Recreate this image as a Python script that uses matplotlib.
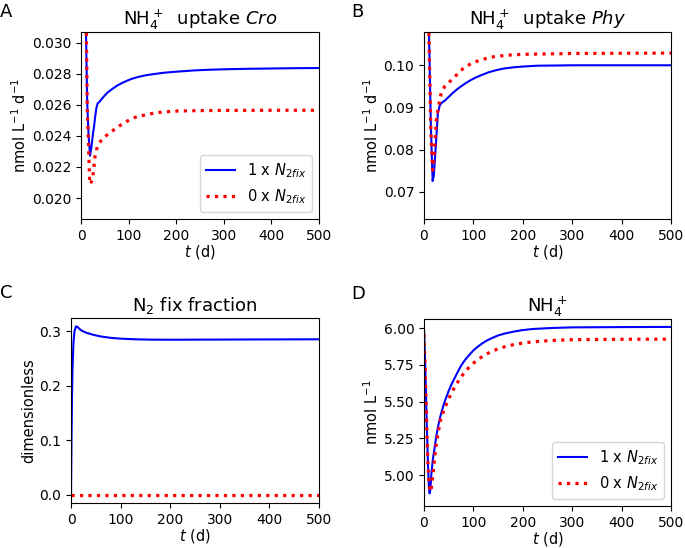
import matplotlib
matplotlib.use("Agg")
import matplotlib.pyplot as plt

# ---------------- data ----------------
# Panel A: NH4+ uptake Cro
a_t_blue = [0, 5, 10, 13, 16, 19, 22, 25, 27.5, 30, 32.4, 35, 38, 43, 48.6, 56, 66, 76, 87, 98, 109,
            122, 137, 155, 172, 190, 207, 240, 270, 300, 350, 400, 450, 500]
a_v_blue = [0.050, 0.041, 0.0315, 0.0262, 0.0240, 0.02273, 0.0233, 0.0241, 0.02462, 0.0253, 0.02581,
            0.0261, 0.02617, 0.02636, 0.02656, 0.02680, 0.02703, 0.02724, 0.02742, 0.02757, 0.02770,
            0.02781, 0.02791, 0.02799, 0.02806, 0.02811, 0.02815, 0.02822, 0.02826, 0.02829, 0.02832,
            0.02834, 0.02836, 0.02837]
a_t_red = [0, 5, 10, 11.3, 13.4, 15.5, 18.3, 21, 24, 26.5, 29, 32.5, 36, 45, 58, 70, 82, 95, 109, 124,
           140, 155, 170, 186, 200, 250, 300, 400, 500]
a_v_red = [0.050, 0.041, 0.0325, 0.0306, 0.0253, 0.0238, 0.0209, 0.0210, 0.02118, 0.0218, 0.02258,
           0.0231, 0.02344, 0.02381, 0.02415, 0.02441, 0.02467, 0.02492, 0.02515, 0.02528, 0.02538,
           0.02548, 0.02553, 0.02557, 0.02560, 0.02563, 0.02564, 0.02565, 0.02565]

# Panel B: NH4+ uptake Phy
b_t_blue = [0, 5, 10, 14, 17.5, 20, 24, 28, 32, 36, 42, 50, 58, 66, 75, 85, 95, 105, 117, 130, 145,
            160, 180, 200, 230, 270, 300, 500]
b_v_blue = [0.16, 0.135, 0.108, 0.085, 0.0725, 0.074, 0.081, 0.0886, 0.0905, 0.0911, 0.0916, 0.0925,
            0.0934, 0.0942, 0.0950, 0.0958, 0.0965, 0.0971, 0.0977, 0.0983, 0.0988, 0.0992, 0.0995,
            0.0997, 0.0999, 0.09995, 0.1000, 0.1000]
b_t_red = [0, 5, 10, 14, 17.5, 20, 25, 30, 35, 42, 52, 60, 70, 79, 88, 97, 106, 116, 128, 140, 153,
           170, 200, 250, 300, 500]
b_v_red = [0.16, 0.135, 0.1068, 0.084, 0.0751, 0.0775, 0.087, 0.0906, 0.0935, 0.0950, 0.0961, 0.0970,
           0.0982, 0.0992, 0.0999, 0.1005, 0.1009, 0.1013, 0.1017, 0.1020, 0.1022, 0.1024, 0.1026,
           0.1027, 0.1028, 0.1029]

# Panel C: N2 fix fraction
c_t = [0, 1, 2, 3, 5, 7, 10, 13, 20, 30, 45, 60, 80, 100, 130, 160, 200, 300, 400, 500]
c_v_blue = [0.0, 0.10, 0.18, 0.23, 0.28, 0.30, 0.309, 0.308, 0.302, 0.2976, 0.2935, 0.2905, 0.2880,
            0.2865, 0.2853, 0.2847, 0.2845, 0.2848, 0.2851, 0.2853]
c_v_red = [0.0] * len(c_t)

# Panel D: NH4+
d_t_blue = [0, 2, 4, 6, 8, 10, 11, 12, 13.5, 15, 18, 21.8, 25, 28.6, 32, 35.4, 40, 45.6, 50, 55.8, 62,
            69.4, 76, 83, 91, 100, 108, 117, 127, 137.4, 150, 164.6, 180, 198.6, 220, 260, 300, 400, 500]
d_v_blue = [6.00, 5.80, 5.55, 5.30, 5.08, 4.92, 4.876, 4.88, 4.93, 5.011, 5.11, 5.192, 5.268, 5.333,
            5.385, 5.428, 5.482, 5.535, 5.574, 5.619, 5.661, 5.710, 5.750, 5.784, 5.816, 5.849, 5.872,
            5.895, 5.916, 5.933, 5.951, 5.965, 5.976, 5.987, 5.995, 6.002, 6.006, 6.008, 6.009]
d_t_red = [0, 2, 4, 6, 8, 10, 12, 13, 14.5, 16, 18.4, 21.5, 25, 29.5, 34, 38.8, 43.5, 49, 55, 62.6,
           72.8, 80, 89.8, 100, 111.6, 124, 137.4, 151, 164.6, 178, 192, 209, 236, 260, 300, 400, 500]
d_v_red = [5.96, 5.76, 5.52, 5.28, 5.08, 4.95, 4.895, 4.887, 4.90, 4.94, 5.011, 5.12, 5.214, 5.305,
           5.383, 5.428, 5.469, 5.512, 5.555, 5.603, 5.658, 5.690, 5.729, 5.762, 5.793, 5.820, 5.843,
           5.861, 5.875, 5.886, 5.895, 5.903, 5.912, 5.917, 5.922, 5.925, 5.926]

titles = [r"NH$_4^+$  uptake $\it{Cro}$", r"NH$_4^+$  uptake $\it{Phy}$",
          r"N$_2$ fix fraction", r"NH$_4^+$"]
ylabels = [r"nmol L$^{-1}$ d$^{-1}$", r"nmol L$^{-1}$ d$^{-1}$", "dimensionless", r"nmol L$^{-1}$"]
panel_letters = ["A", "B", "C", "D"]
legend_labels = [r"1 x $\mathit{N}_{\mathit{2fix}}$", r"0 x $\mathit{N}_{\mathit{2fix}}$"]

# ---------------- plot ----------------
plt.rcParams["font.size"] = 10.5
plt.rcParams["xtick.labelsize"] = 10
plt.rcParams["ytick.labelsize"] = 10
fig = plt.figure(figsize=(6.85, 5.48), dpi=100)

W, H = 685.0, 548.0
def pos(l, r, t, b):
    return [l / W, 1 - b / H, (r - l) / W, (b - t) / H]

axA = fig.add_axes(pos(81, 319, 32, 219))
axB = fig.add_axes(pos(424, 671, 32, 219))
axC = fig.add_axes(pos(71, 319, 318, 503))
axD = fig.add_axes(pos(424, 671, 319, 506))
axes = [axA, axB, axC, axD]

blue_kw = dict(color="blue", lw=1.5, ls="-")
red_kw = dict(color="red", lw=2.3, ls=":")

axA.plot(a_t_blue, a_v_blue, label=legend_labels[0], **blue_kw)
axA.plot(a_t_red, a_v_red, label=legend_labels[1], **red_kw)
axA.set_ylim(0.01865, 0.03069)
axA.set_yticks([0.020, 0.022, 0.024, 0.026, 0.028, 0.030])

axB.plot(b_t_blue, b_v_blue, **blue_kw)
axB.plot(b_t_red, b_v_red, **red_kw)
axB.set_ylim(0.0635, 0.1079)
axB.set_yticks([0.07, 0.08, 0.09, 0.10])

axC.plot(c_t, c_v_blue, **blue_kw)
axC.plot(c_t, c_v_red, **red_kw)
axC.set_ylim(-0.0152, 0.3244)
axC.set_yticks([0.0, 0.1, 0.2, 0.3])

axD.plot(d_t_blue, d_v_blue, label=legend_labels[0], **blue_kw)
axD.plot(d_t_red, d_v_red, label=legend_labels[1], **red_kw)
axD.set_ylim(4.79, 6.063)
axD.set_yticks([5.00, 5.25, 5.50, 5.75, 6.00])
axD.set_yticklabels(["5.00", "5.25", "5.50", "5.75", "6.00"])

for ax, ttl, yl in zip(axes, titles, ylabels):
    ax.set_xlim(0, 500)
    ax.set_xticks([0, 100, 200, 300, 400, 500])
    ax.set_title(ttl, fontsize=13, pad=5)
    ax.set_ylabel(yl, labelpad=2)
    ax.set_xlabel(r"$t$ (d)", labelpad=0)

axA.legend(loc="lower right", fontsize=10.5)
axD.legend(loc="lower right", fontsize=10.5)

letter_pos = [(0, 3), (351, 3), (0, 284), (351, 285)]
for (x, y), letter in zip(letter_pos, panel_letters):
    fig.text(x / W, 1 - y / H, letter, fontsize=13, ha="left", va="top")

fig.savefig("out.png", dpi=100)
